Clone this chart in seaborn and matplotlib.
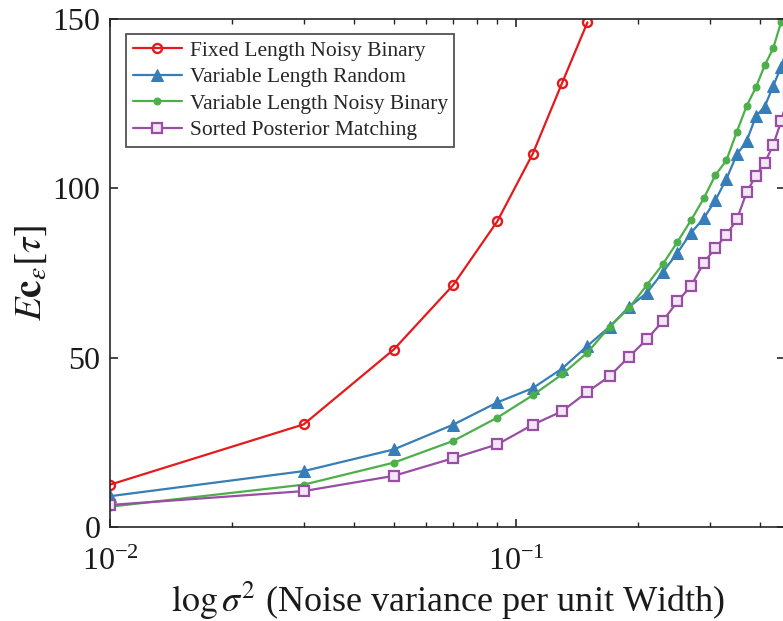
import numpy as np
import pandas as pd
import matplotlib
matplotlib.use("Agg")
import matplotlib.pyplot as plt
import seaborn as sns
from matplotlib.ticker import LogLocator, NullFormatter, FixedLocator

# ---------------- data ----------------
x_fixed = [0.01, 0.03, 0.05, 0.07, 0.09, 0.11, 0.13, 0.15]
fixed_noisy = [12.5, 30.3, 52.4, 71.4, 90.3, 110.2, 131.2, 149.0]

x_var = [0.01, 0.03, 0.05, 0.07, 0.09, 0.11, 0.13, 0.15, 0.17, 0.19, 0.21, 0.23,
         0.25, 0.27, 0.29, 0.31, 0.33, 0.35, 0.37, 0.39, 0.41, 0.43, 0.45, 0.47]
var_random = [9.1, 16.5, 22.9, 30.2, 36.8, 41.0, 46.8, 53.5, 59.1, 65.0, 69.1, 75.2,
              81.0, 86.9, 91.1, 96.5, 102.8, 110.0, 113.9, 121.3, 124.1, 130.2, 135.8, 143.0]
var_noisy = [6.0, 12.5, 19.0, 25.4, 32.3, 38.9, 45.1, 51.5, 59.1, 64.7, 71.4, 77.6,
             84.2, 90.6, 97.0, 103.9, 108.3, 116.7, 124.3, 129.8, 136.3, 141.3, 149.1, 157.0]
sorted_pm = [6.5, 10.6, 15.1, 20.3, 24.4, 30.2, 34.2, 39.9, 44.5, 50.3, 55.4, 60.8,
             66.6, 71.2, 78.0, 82.4, 86.3, 90.8, 98.8, 103.7, 107.6, 112.7, 119.8, 128.0]

labels = ["Fixed Length Noisy Binary", "Variable Length Random",
          "Variable Length Noisy Binary", "Sorted Posterior Matching"]
colors = ["#e41a1c", "#377eb8", "#4daf4a", "#984ea3"]

yticks = [0, 50, 100, 150]

# ---------------- style ----------------
sns.set_theme(style="white")
plt.rcParams["font.family"] = ["Liberation Serif", "DejaVu Serif"]
plt.rcParams["mathtext.fontset"] = "stix"
plt.rcParams["axes.unicode_minus"] = False
plt.rcParams["axes.edgecolor"] = "#262626"
plt.rcParams["axes.linewidth"] = 1.2

fig = plt.figure(figsize=(7.83, 6.21), dpi=100)
ax = fig.add_axes([110 / 783, (621 - 527) / 621, (785 - 110) / 783, (527 - 19) / 621])

lw = 1.6
sns.lineplot(x=x_fixed, y=fixed_noisy, ax=ax, color=colors[0], lw=lw, marker="o",
             markersize=6.5, markerfacecolor="none", markeredgecolor=colors[0],
             markeredgewidth=1.7, label=labels[0])
sns.lineplot(x=x_var, y=var_random, ax=ax, color=colors[1], lw=lw, marker="^",
             markersize=8.5, markerfacecolor=colors[1], markeredgecolor=colors[1],
             label=labels[1])
sns.lineplot(x=x_var, y=var_noisy, ax=ax, color=colors[2], lw=lw, marker="o",
             markersize=5, markerfacecolor=colors[2], markeredgecolor=colors[2],
             label=labels[2])
sns.lineplot(x=x_var, y=sorted_pm, ax=ax, color=colors[3], lw=lw, marker="s",
             markersize=6.5, markerfacecolor="#f3e6f5", markeredgecolor=colors[3],
             markeredgewidth=1.6, label=labels[3])

ax.set_xscale("log")
ax.set_xlim(0.01, 0.46)
ax.set_ylim(0, 150)
ax.yaxis.set_major_locator(FixedLocator(yticks))
ax.xaxis.set_major_locator(LogLocator(base=10))
ax.xaxis.set_minor_locator(LogLocator(base=10, subs=np.arange(2, 10)))
ax.xaxis.set_minor_formatter(NullFormatter())

ax.tick_params(axis="both", which="major", direction="in", length=6, width=1.2,
               colors="#262626", labelcolor="#1a1a1a", labelsize=23,
               top=True, right=True, bottom=True, left=True)
ax.tick_params(axis="x", which="minor", direction="in", length=3.6, width=1.0,
               colors="#262626", top=True, bottom=True)
ax.tick_params(axis="x", which="major", pad=15)
ax.tick_params(axis="y", which="major", pad=7)

ax.set_xlabel(r"$\log\sigma^2$ (Noise variance per unit Width)", fontsize=26,
              color="#1a1a1a", labelpad=2)
ax.set_ylabel(r"$E\mathbf{c}_{\epsilon}\left[\tau\right]$", fontsize=28,
              color="#1a1a1a", labelpad=2)

leg = ax.legend(loc="upper left", bbox_to_anchor=(0.024, 0.97), fontsize=15.5,
                frameon=True, fancybox=False, edgecolor="#262626",
                handlelength=2.3, handletextpad=0.35, borderpad=0.3,
                labelspacing=0.3, borderaxespad=0.0)
leg.get_frame().set_linewidth(1.3)

for s in ax.spines.values():
    s.set_visible(True)

fig.savefig("out.png", dpi=100)
